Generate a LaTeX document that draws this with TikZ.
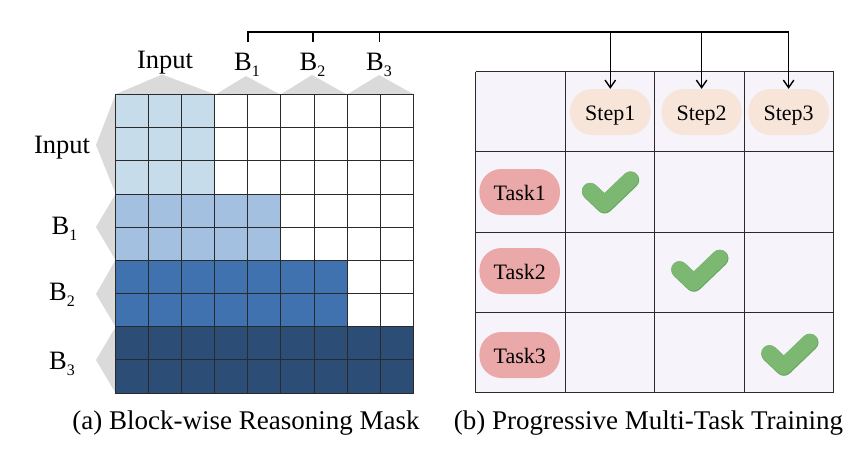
\documentclass[tikz,border=0pt]{standalone}
\usepackage{fontspec}
\setmainfont{Liberation Serif}
\usetikzlibrary{arrows.meta}
\definecolor{maskA}{HTML}{C6DCEA}
\definecolor{maskB}{HTML}{A3C0E0}
\definecolor{maskC}{HTML}{4072B0}
\definecolor{maskD}{HTML}{2C4D76}
\definecolor{tablebg}{HTML}{F6F4FA}
\definecolor{steppill}{HTML}{F8E5D9}
\definecolor{taskpill}{HTML}{EBA8A8}
\definecolor{wedge}{HTML}{DADADA}
\definecolor{checkA}{HTML}{7CB871}
\definecolor{checkB}{HTML}{68A860}
\definecolor{gridline}{HTML}{2A2A2A}
\newcommand{\bsub}[1]{B\raisebox{-6.5pt}{\fontsize{16}{16}\selectfont #1}}
\tikzset{
  biglabel/.style={inner sep=0pt,anchor=base,font=\fontsize{26.5}{30}\selectfont},
  caption/.style={inner sep=0pt,anchor=base,font=\fontsize{27}{30}\selectfont},
  pillbox/.style={rounded corners=22pt,minimum width=80.5pt,minimum height=46pt,inner sep=0pt,text height=17.6pt,text depth=0pt,font=\fontsize{22}{24}\selectfont},
  steppillbox/.style={pillbox,fill=steppill},
  taskpillbox/.style={pillbox,fill=taskpill},
  gridpen/.style={draw=gridline,line width=1pt},
  wedgefill/.style={fill=wedge,draw=none},
  busline/.style={draw=black,line width=1.5pt},
  busarrow/.style={draw=black,line width=1.4pt,-{Straight Barb[length=7.5pt,width=10.5pt,line width=1.4pt]}},
  checkshape/.style={line width=17pt,line cap=round,line join=round},
}
\begin{document}
\begin{tikzpicture}[x=1pt,y=-1pt]
\useasboundingbox (0,0) rectangle (868,450);
% wedges
\fill[wedgefill] (115,94.5)--(162,74.5)--(215.5,94.5)--cycle;
\fill[wedgefill] (215.5,94.5)--(246,76)--(280,94.5)--cycle;
\fill[wedgefill] (280.5,94.5)--(312,75)--(347,94.5)--cycle;
\fill[wedgefill] (347,94.5)--(379,75)--(414,94.5)--cycle;
\fill[wedgefill] (115.5,94.5)--(96,145)--(115.5,193.5)--cycle;
\fill[wedgefill] (115.5,194)--(96,227)--(115.5,260)--cycle;
\fill[wedgefill] (115.5,260)--(96,294)--(115.5,326.5)--cycle;
\fill[wedgefill] (115.5,327)--(96,360)--(115.5,393)--cycle;
% mask fills
\fill[maskA] (115.3,94.5) rectangle (215,193.9);
\fill[maskB] (115.3,193.9) rectangle (281,260.2);
\fill[maskC] (115.3,260.2) rectangle (347.2,326.5);
\fill[maskD] (115.3,326.5) rectangle (413.5,393);
% mask grid
\foreach \i in {0,...,9} {
  \draw[gridpen] ({115.3+33.13*\i},94.5) -- ({115.3+33.13*\i},393);
  \draw[gridpen] (115.3,{94.5+33.17*\i}) -- (413.5,{94.5+33.17*\i});
}
% table
\fill[tablebg] (475.5,71.5) rectangle (833.5,392.5);
\foreach \x in {475.5,565,654.5,744,833.5} \draw[gridpen] (\x,71.5) -- (\x,392.5);
\foreach \y in {71.5,151.5,232,312.5,392.5} \draw[gridpen] (475.5,\y) -- (833.5,\y);
% pills
\node[steppillbox] (step1) at (610.3,112) {Step1};
\node[steppillbox,minimum width=80pt] (step2) at (701.6,112) {Step2};
\node[steppillbox] (step3) at (788.6,112) {Step3};
\node[taskpillbox] (task1) at (519.7,192) {Task1};
\node[taskpillbox] (task2) at (519.7,271) {Task2};
\node[taskpillbox] (task3) at (519.7,355) {Task3};
% checks
\foreach \dx/\dy in {0/0,89.3/78.3,179.3/162.3} {
  \begin{scope}[shift={(\dx,\dy)}]
    \draw[checkB,checkshape] (590.4,191.5) -- (604.6,205) -- (630.7,180);
    \draw[checkA,checkshape,line width=16pt] (590,190.8) -- (604.2,204.3) -- (630.3,179.4);
  \end{scope}
}
% labels
\node[biglabel] (topinput) at (165,68.5) {Input};
\node[biglabel] (topb1) at (247,70) {\bsub{1}};
\node[biglabel] (topb2) at (312.5,70) {\bsub{2}};
\node[biglabel] (topb3) at (379,70) {\bsub{3}};
\node[biglabel] (leftinput) at (62,153) {Input};
\node[biglabel] (leftb1) at (64.5,234) {\bsub{1}};
\node[biglabel] (leftb2) at (62,300) {\bsub{2}};
\node[biglabel] (leftb3) at (62,369) {\bsub{3}};
\node[caption] (capa) at (246,429) {(a) Block-wise Reasoning Mask};
\node[caption] (capb) at (648.5,429) {(b) Progressive Multi-Task Training};
% bus
\coordinate (busA) at (248,32);
\coordinate (tickA) at (248,42);
\coordinate (busB) at (313,32);
\coordinate (tickB) at (313,42);
\coordinate (busC) at (379.5,32);
\coordinate (tickC) at (379.5,42);
\coordinate (busD) at (610.3,32);
\coordinate (busE) at (701.6,32);
\coordinate (busF) at (788.6,32);
\draw[busline] (tickA) -- (busA) -- (busE);
\draw[busline,line width=1.1pt] (busE) -- (busF);
\draw[busline,line width=1.1pt] (busB) -- (tickB);
\draw[busline,line width=1.1pt] (busC) -- (tickC);
\draw[busarrow] (busD) -- (step1.north);
\draw[busarrow] (busE) -- (step2.north);
\draw[busarrow] (busF) -- (step3.north);
\end{tikzpicture}
\end{document}
